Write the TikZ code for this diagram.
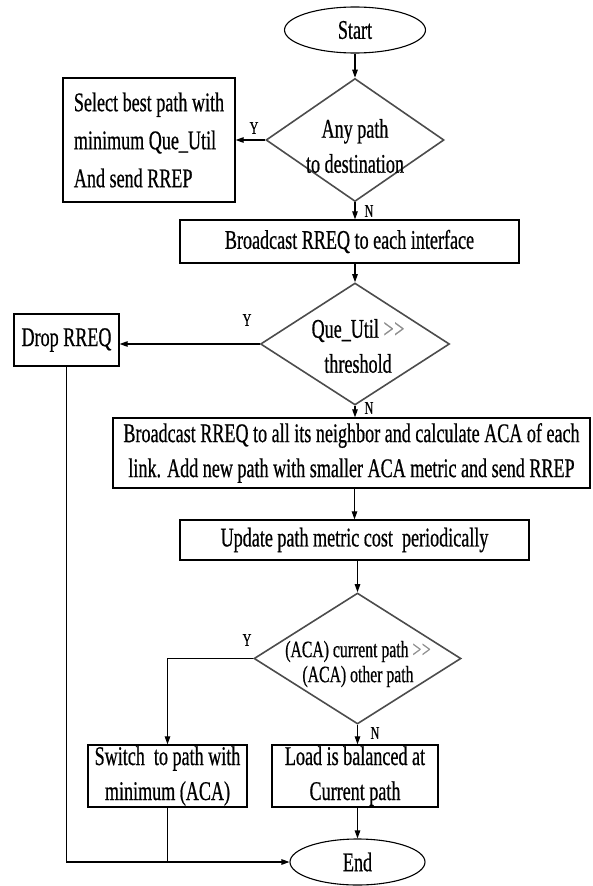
\documentclass[tikz,border=0pt]{standalone}
\usepackage{fontspec}
\setmainfont{Liberation Serif}[FakeStretch=0.67,FakeBold=0.6,Ligatures=NoCommon]
\usetikzlibrary{shapes.geometric,arrows.meta}
\newcommand{\gtgt}{\textcolor{black!45}{\textgreater\kern0.5pt\textgreater}}
\begin{document}
\begin{tikzpicture}[x=1pt,y=-1pt,
  every node/.style={font=\fontsize{27}{35}\selectfont, inner sep=0pt},
  boxnode/.style={draw=black, line width=1.3pt, rectangle, align=center},
  decnode/.style={draw=black!70, line width=1.6pt, shape=diamond},
  termnode/.style={draw=black, line width=1.1pt, ellipse},
  dtext/.style={align=center},
  conn/.style={draw=black, line width=1.1pt},
  arr/.style={conn, -{Triangle[length=8pt,width=5.5pt]}},
  yn/.style={font=\fontsize{18}{20}\selectfont}]
\useasboundingbox (0,0) rectangle (592,886);
% nodes
\node[termnode, minimum width=141pt, minimum height=46pt] (start) at (355,30) {Start};
\node[decnode, minimum width=178pt, minimum height=123pt] (d1) at (355,140) {};
\node[dtext] (d1t) at (355,146) {Any path\\to destination};
\node[boxnode, align=left, minimum width=172pt, minimum height=124pt, font=\fontsize{27}{38}\selectfont] (sel) at (149,140) {Select best path with\\minimum Que\_Util\\And send RREP};
\node[boxnode, minimum width=339pt, minimum height=43pt] (bc1) at (349.5,241.5) {Broadcast RREQ to each interface};
\node[decnode, minimum width=189pt, minimum height=122pt] (d2) at (355,344) {};
\node[dtext] (d2t) at (358,346) {Que\_Util \gtgt\\threshold};
\node[boxnode, minimum width=105pt, minimum height=52pt] (drop) at (66.5,340) {Drop RREQ};
\node[boxnode, minimum width=477pt, minimum height=70pt] (big) at (351.5,453) {Broadcast RREQ to all its neighbor and calculate ACA of each\\link. Add new path with smaller ACA metric and send RREP};
\node[boxnode, minimum width=349pt, minimum height=40pt] (upd) at (354.5,540) {Update path metric cost\ \ periodically};
\node[decnode, minimum width=207pt, minimum height=131pt] (d3) at (357.5,658.5) {};
\node[dtext, font=\fontsize{23.5}{25}\selectfont] (d3t) at (358,664) {(ACA) current path \gtgt\\(ACA) other path};
\node[boxnode, minimum width=159pt, minimum height=62pt] (sw) at (167.5,776) {Switch\ \ to path with\\minimum (ACA)};
\node[boxnode, minimum width=166pt, minimum height=62pt] (load) at (355,776) {Load is balanced at\\Current path};
\node[termnode, minimum width=135pt, minimum height=46pt] (end) at (357.5,862) {End};
% labels
\node[yn] (y1) at (254,128) {Y};
\node[yn] (n1) at (369,211) {N};
\node[yn] (y2) at (247,320) {Y};
\node[yn] (n2) at (369,408) {N};
\node[yn] (y3) at (247,640) {Y};
\node[yn] (n3) at (375,733) {N};
% connectors
\draw[arr] (start) -- (d1);
\draw[arr] (d1.west) -- (sel.east);
\draw[arr] (d1.south) -- (d1.south |- bc1.north);
\draw[arr] (d2.north |- bc1.south) -- (d2.north);
\draw[arr] (d2.west) -- (d2.west -| drop.east);
\draw[arr] (d2.south) -- (d2.south |- big.north);
\draw[arr] (upd.north |- big.south) -- (upd.north);
\draw[arr] (d3.north |- upd.south) -- (d3.north);
\draw[arr] (d3.west) -| (sw.north);
\draw[arr] (d3.south) -- (d3.south |- load.north);
\draw[arr] (end.north |- load.south) -- (end.north);
\draw[arr] (drop.south) |- (end.west);
\draw[conn] (sw.south) -- (sw.south |- end.west);
\end{tikzpicture}
\end{document}
